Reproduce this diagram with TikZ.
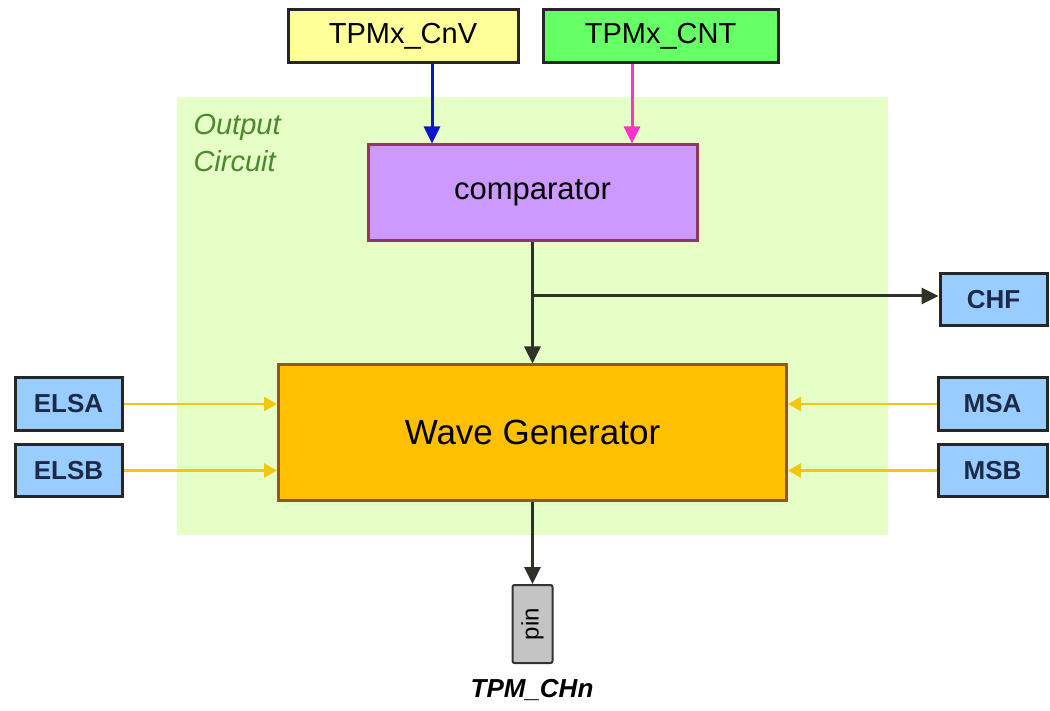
\documentclass[tikz,border=0pt]{standalone}
\usepackage{fontspec}
\setmainfont{Liberation Sans}
\usetikzlibrary{arrows.meta}
\definecolor{ylbox}{HTML}{FFFF99}
\definecolor{grbox}{HTML}{66FF66}
\definecolor{bgcol}{HTML}{E6FFC6}
\definecolor{compcol}{HTML}{CC99FF}
\definecolor{compbd}{HTML}{8B3A62}
\definecolor{wavecol}{HTML}{FFC000}
\definecolor{wavebd}{HTML}{8B5A2B}
\definecolor{sigcol}{HTML}{99CCFF}
\definecolor{sigtxt}{HTML}{1C2A48}
\definecolor{arrblue}{HTML}{0A14C8}
\definecolor{arrmag}{HTML}{FF33CC}
\definecolor{arryel}{HTML}{F2C80F}
\definecolor{greentxt}{HTML}{4A8A2C}
\definecolor{pincol}{HTML}{C4C4C4}
\definecolor{darkline}{HTML}{2E3226}
\tikzset{
  topbox/.style={draw=black!85, line width=3pt, minimum width=230pt, minimum height=53pt, inner sep=0pt, font=\fontsize{29}{31}\selectfont},
  sigbox/.style={draw=black!85, line width=3pt, fill=sigcol, minimum width=107pt, minimum height=52pt, inner sep=0pt, text=sigtxt, font=\fontsize{26}{28}\selectfont\bfseries},
  arr/.style={line width=3pt, -{Triangle[length=17pt,width=16pt]}},
  yarr/.style={line width=2.5pt, draw=arryel, -{Triangle[length=13pt,width=14pt]}, color=arryel},
}
\begin{document}
\begin{tikzpicture}[x=1pt,y=-1pt]
\useasboundingbox (0,0) rectangle (1050,711);
\fill[white] (0,0) rectangle (1050,711);
% background region
\fill[bgcol] (177,97) rectangle (888,535);
\node[anchor=west, align=left, text=greentxt, font=\fontsize{29}{37}\selectfont\itshape] (oc) at (190,143) {Output\\Circuit};
% nodes
\node[topbox, fill=ylbox] (cnv) at (403,36.5) {TPMx\_CnV};
\node[topbox, fill=grbox, minimum width=235pt] (cnt) at (660.5,36.5) {TPMx\_CNT};
\node[draw=compbd, line width=3pt, fill=compcol, minimum width=329pt, minimum height=96pt, inner sep=0pt, font=\fontsize{31}{33}\selectfont] (comp) at (532.5,193) {comparator};
\node[draw=wavebd, line width=3pt, fill=wavecol, minimum width=508pt, minimum height=135pt, inner sep=0pt, font=\fontsize{35}{37}\selectfont] (wave) at (532.5,432.5) {Wave Generator};
\node[sigbox] (chf) at (993.5,300) {CHF};
\node[sigbox] (elsa) at (68.5,404) {ELSA};
\node[sigbox] (elsb) at (68.5,470.5) {ELSB};
\node[sigbox, minimum width=109pt] (msa) at (992.5,404) {MSA};
\node[sigbox, minimum width=109pt] (msb) at (992.5,470.5) {MSB};
\node[draw=black!80, line width=2pt, fill=pincol, minimum width=40pt, minimum height=78pt, inner sep=0pt, rounded corners=2pt] (pin) at (532.5,624) {};
\node[rotate=90, font=\fontsize{24}{26}\selectfont] (pintxt) at (pin.center) {pin};
\node[font=\fontsize{26}{28}\selectfont\bfseries\itshape] (chn) at (532,690) {TPM\_CHn};
% connectors
\coordinate (bx) at (432,0);
\coordinate (mx) at (632,0);
\coordinate (br) at (532.5,296);
\draw[arr, draw=arrblue, color=arrblue] (cnv.south -| bx) -- (comp.north -| bx);
\draw[arr, draw=arrmag, color=arrmag] (cnt.south -| mx) -- (comp.north -| mx);
\draw[arr, draw=darkline, color=darkline] (comp.south) -- (wave.north);
\draw[arr, draw=darkline, color=darkline] (br) -- (br -| chf.west);
\draw[yarr] (elsa.east) -- (wave.west |- elsa.east);
\draw[yarr] (elsb.east) -- (wave.west |- elsb.east);
\draw[yarr] (msa.west) -- (wave.east |- msa.west);
\draw[yarr] (msb.west) -- (wave.east |- msb.west);
\draw[arr, draw=darkline, color=darkline] (wave.south) -- (pin.north);
\end{tikzpicture}
\end{document}
